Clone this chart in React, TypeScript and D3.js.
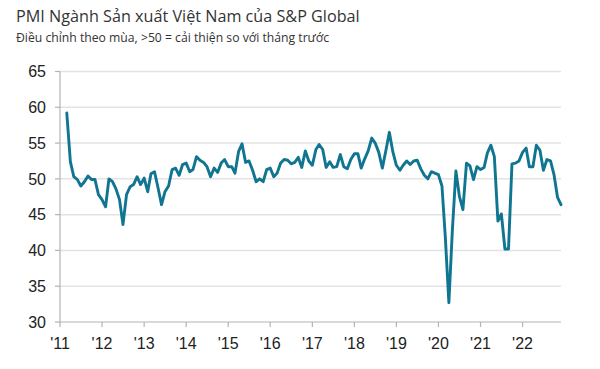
import * as d3 from "d3";

// Monthly PMI readings, Mar 2011 onwards (one entry per month)
const startYear = 2011;
const startMonth = 2; // March (0-based)

const pmi2011 = [59.2, 52.4, 50.3, 49.9, 49.0, 49.6, 50.4, 49.9, 49.9, 47.8];
const pmi2012 = [47.1, 46.1, 50.0, 49.6, 48.6, 47.1, 43.6, 47.8, 48.9, 49.2, 50.3, 49.2];
const pmi2013 = [50.1, 48.2, 50.7, 51.0, 48.8, 46.4, 48.2, 49.0, 51.3, 51.5, 50.5, 52.0];
const pmi2014 = [52.2, 51.0, 51.3, 53.1, 52.6, 52.3, 51.7, 50.3, 51.5, 50.9, 52.2, 52.7];
const pmi2015 = [51.7, 51.7, 50.8, 53.8, 54.9, 52.3, 52.5, 51.2, 49.6, 50.0, 49.6, 51.3];
const pmi2016 = [51.5, 50.3, 50.8, 52.2, 52.7, 52.6, 52.1, 52.3, 53.0, 51.6, 53.9, 52.5];
const pmi2017 = [51.9, 54.1, 54.8, 54.1, 51.6, 52.4, 51.6, 51.7, 53.4, 51.7, 51.4, 52.7];
const pmi2018 = [53.5, 53.5, 51.5, 52.8, 53.9, 55.7, 55.0, 53.7, 51.5, 53.9, 56.5, 53.8];
const pmi2019 = [51.9, 51.2, 51.9, 52.5, 52.0, 52.5, 52.6, 51.4, 50.5, 50.0, 51.0, 50.8];
const pmi2020 = [50.6, 49.0, 41.9, 32.7, 42.7, 51.1, 47.6, 45.7, 52.2, 51.8, 49.9, 51.7];
const pmi2021 = [51.3, 51.6, 53.6, 54.7, 53.1, 44.1, 45.1, 40.2, 40.2, 52.1, 52.2, 52.5];
const pmi2022 = [53.7, 54.3, 51.7, 51.7, 54.7, 54.0, 51.2, 52.7, 52.5, 50.6, 47.4, 46.4];

const yTicks = [30, 35, 40, 45, 50, 55, 60, 65];
const yearTicks = [2011, 2012, 2013, 2014, 2015, 2016, 2017, 2018, 2019, 2020, 2021, 2022];

const title = "PMI Ngành Sản xuất Việt Nam của S&P Global";
const subtitle = "Điều chỉnh theo mùa, >50 = cải thiện so với tháng trước";

const values = [
  ...pmi2011, ...pmi2012, ...pmi2013, ...pmi2014, ...pmi2015, ...pmi2016,
  ...pmi2017, ...pmi2018, ...pmi2019, ...pmi2020, ...pmi2021, ...pmi2022,
];
const series = values.map((v, i) => ({
  date: new Date(startYear, startMonth + i, 1),
  value: v,
}));

const width = 600;
const height = 369;
const margin = { top: 71.5, right: 39, bottom: 47, left: 60 };

export default function App() {
  const x = d3
    .scaleTime()
    .domain([new Date(2011, 0, 1), new Date(2022, 11, 1)])
    .range([margin.left, width - margin.right]);
  const y = d3
    .scaleLinear()
    .domain([30, 65])
    .range([height - margin.bottom, margin.top]);

  const line = d3
    .line<{ date: Date; value: number }>()
    .x((d) => x(d.date))
    .y((d) => y(d.value));

  const axisColor = "#b3b3b3";
  const font = "'Liberation Sans', Arial, sans-serif";
  const titleFont = "'Open Sans', 'Noto Sans', sans-serif";

  return (
    <svg
      width={width}
      height={height}
      style={{ position: "absolute", left: 0, top: 0, background: "#fff" }}
    >
      <text x={16} y={22} fontFamily={titleFont} fontSize={16.2} fill="#333">
        {title}
      </text>
      <text x={16} y={42} fontFamily={titleFont} fontSize={12.2} fill="#333">
        {subtitle}
      </text>

      {yTicks.slice(1).map((t) => (
        <line
          key={"g" + t}
          x1={margin.left}
          x2={width - margin.right}
          y1={y(t)}
          y2={y(t)}
          stroke="#e3e3e3"
          strokeWidth={1.5}
        />
      ))}

      {/* y axis */}
      <line
        x1={margin.left}
        x2={margin.left}
        y1={y(65)}
        y2={y(30)}
        stroke={axisColor}
        strokeWidth={1.2}
      />
      {yTicks.map((t) => (
        <g key={"y" + t}>
          <line
            x1={margin.left - 5}
            x2={margin.left}
            y1={y(t)}
            y2={y(t)}
            stroke={axisColor}
            strokeWidth={1.2}
          />
          <text
            x={margin.left - 14}
            y={y(t)}
            dy="0.36em"
            textAnchor="end"
            fontFamily={font}
            fontSize={16}
            fill="#222"
          >
            {t}
          </text>
        </g>
      ))}

      {/* x axis */}
      <line
        x1={margin.left}
        x2={width - margin.right}
        y1={y(30)}
        y2={y(30)}
        stroke={axisColor}
        strokeWidth={1.2}
      />
      {yearTicks.map((yr) => {
        const xp = x(new Date(yr, 0, 1));
        return (
          <g key={"x" + yr}>
            <line
              x1={xp}
              x2={xp}
              y1={y(30)}
              y2={y(30) + 5}
              stroke={axisColor}
              strokeWidth={1.2}
            />
            <text
              x={xp}
              y={y(30) + 27}
              textAnchor="middle"
              fontFamily={font}
              fontSize={16}
              fill="#222"
            >
              {"'" + String(yr).slice(2)}
            </text>
          </g>
        );
      })}

      <path
        d={line(series) ?? ""}
        fill="none"
        stroke="#0f7591"
        strokeWidth={2.9}
        strokeLinejoin="round"
        strokeLinecap="round"
      />
    </svg>
  );
}
